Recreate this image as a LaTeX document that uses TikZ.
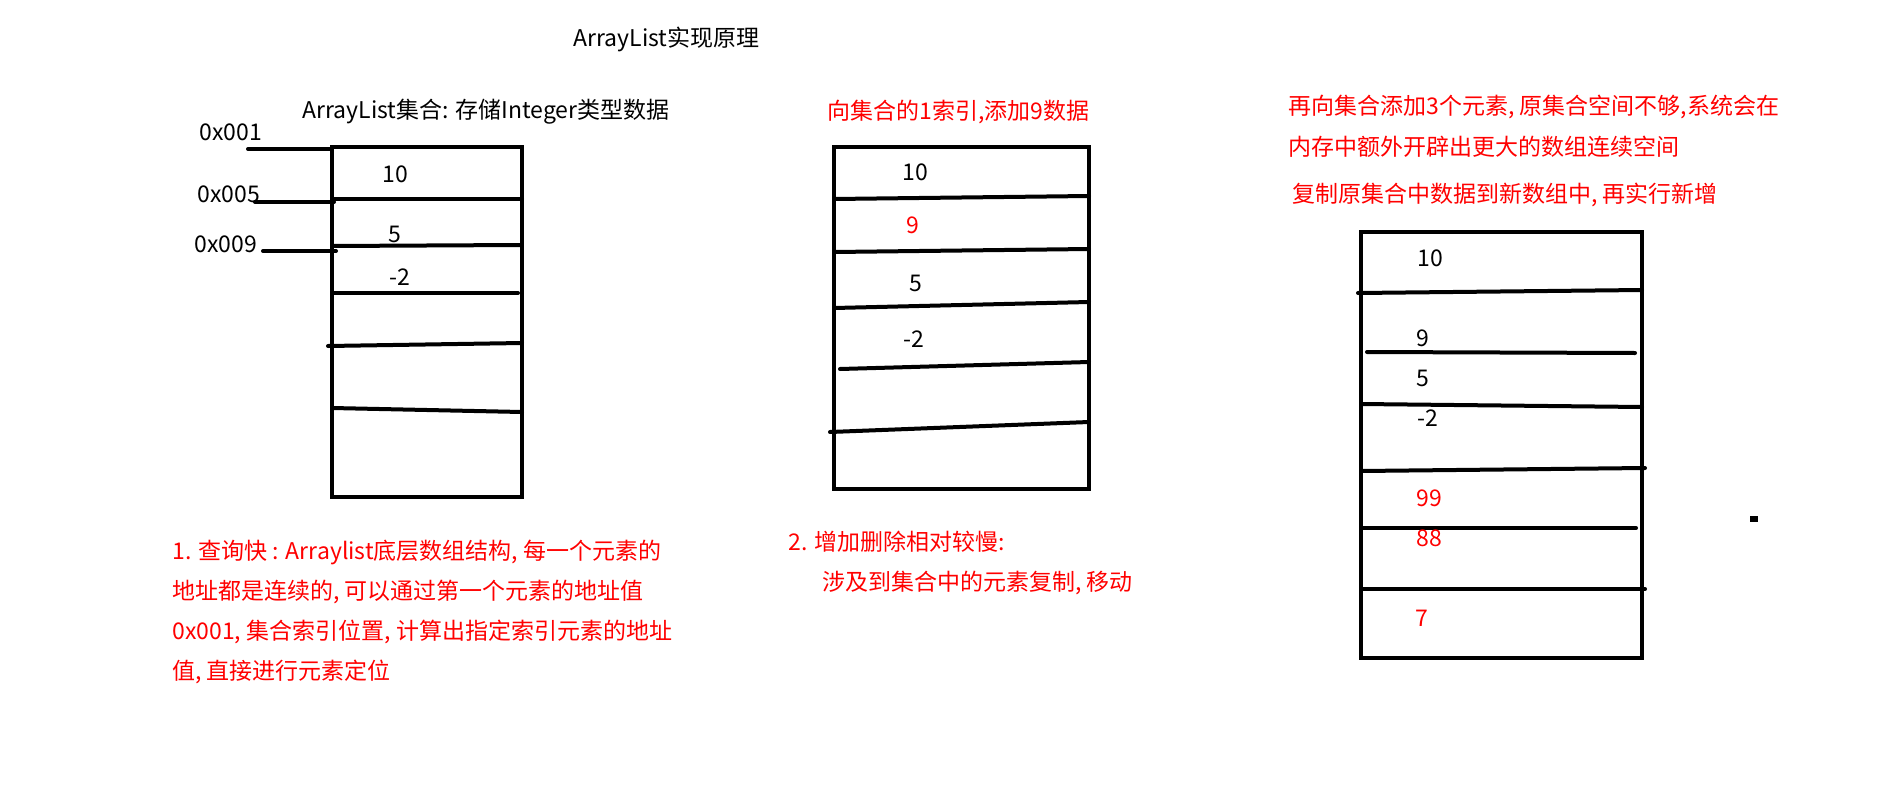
\documentclass[tikz,border=0pt]{standalone}
\usepackage{fontspec}
\setmainfont{Noto Sans CJK SC}
\usetikzlibrary{positioning}

\tikzset{
  txt/.style={anchor=west,inner sep=0pt,font=\fontsize{11.5}{13}\selectfont},
  note/.style={txt,text=red},
  val/.style={inner sep=0pt,font=\fontsize{11.5}{13}\selectfont},
  wall/.style={line width=2pt,line cap=round}
}

\begin{document}
\begin{tikzpicture}[x=0.5pt,y=-0.5pt]
\useasboundingbox (0,0) rectangle (1895,787);

\node[txt] (title) at (573,39) {ArrayList实现原理};

% first list
\node[txt] (head1) at (302,112) {ArrayList集合: 存储Integer类型数据};
\node[txt] (a001) at (199,132) {0x001};
\node[txt] (a005) at (197,194) {0x005};
\node[txt] (a009) at (194,244) {0x009};
\draw[wall] (332,147) rectangle (522,497);
\draw[wall] (332,199) -- (522,199);
\draw[wall] (332,246) -- (520,245);
\draw[wall] (332,293) -- (518,293);
\draw[wall] (328,346) -- (522,343);
\draw[wall] (332,408) -- (522,412);
\coordinate (e001) at (330,149);
\coordinate (e005) at (334,202);
\coordinate (e009) at (336,251);
\draw[wall] (248,149) -- (e001);
\draw[wall] (255,202) -- (e005);
\draw[wall] (263,251) -- (e009);
\node[val] (v10a) at (395,174) {10};
\node[val] (v5a) at (395,234) {5};
\node[val] (vm2a) at (400,277) {-2};

\node[note] (fast1) at (172,552) {1. 查询快 : Arraylist底层数组结构, 每一个元素的};
\node[note] (fast2) at (172,592) {地址都是连续的, 可以通过第一个元素的地址值};
\node[note] (fast3) at (172,632) {0x001, 集合索引位置, 计算出指定索引元素的地址};
\node[note] (fast4) at (172,672) {值, 直接进行元素定位};

% second list
\node[note] (head2) at (827,112) {向集合的1索引,添加9数据};
\draw[wall] (834,147) rectangle (1089,489);
\draw[wall] (834,199) -- (1089,196);
\draw[wall] (834,252) -- (1089,249);
\draw[wall] (834,308) -- (1089,302);
\draw[wall] (840,369) -- (1089,362);
\draw[wall] (830,432) -- (1089,422);
\node[val] (v10b) at (915,172) {10};
\node[val,text=red] (v9b) at (913,225) {9};
\node[val] (v5b) at (916,283) {5};
\node[val] (vm2b) at (914,339) {-2};

\node[note] (slow1) at (788,542) {2. 增加删除相对较慢:};
\node[note] (slow2) at (822,583) {涉及到集合中的元素复制, 移动};

% third list
\node[note] (grow1) at (1288,107) {再向集合添加3个元素, 原集合空间不够,系统会在};
\node[note] (grow2) at (1288,147) {内存中额外开辟出更大的数组连续空间};
\node[note] (grow3) at (1292,195) {复制原集合中数据到新数组中, 再实行新增};
\draw[wall] (1361,232) rectangle (1642,658);
\draw[wall] (1358,293) -- (1642,290);
\draw[wall] (1367,352) -- (1635,353);
\draw[wall] (1361,404) -- (1642,407);
\draw[wall] (1361,471) -- (1645,468);
\draw[wall] (1361,528) -- (1636,528);
\draw[wall] (1361,589) -- (1645,589);
\node[val] (v10c) at (1430,258) {10};
\node[val] (v9c) at (1423,338) {9};
\node[val] (v5c) at (1423,378) {5};
\node[val] (vm2c) at (1428,418) {-2};
\node[val,text=red] (v99c) at (1429,498) {99};
\node[val,text=red] (v88c) at (1429,538) {88};
\node[val,text=red] (v7c) at (1422,618) {7};

\fill (1750,516) rectangle (1758,522);
\end{tikzpicture}
\end{document}
